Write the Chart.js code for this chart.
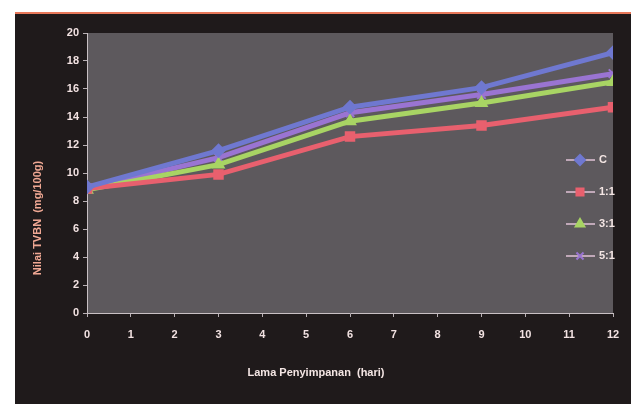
<!DOCTYPE html>
<html>
<head>
<meta charset="utf-8">
<script src="https://cdn.jsdelivr.net/npm/chart.js@4/dist/chart.umd.min.js"></script>
<style>
  html, body { margin: 0; padding: 0; background: #fff; }
  #wrap { width: 631px; height: 404px; }
</style>
</head>
<body>
<div id="wrap"><canvas id="myChart" width="631" height="404"></canvas></div>
<script>
// values
var days = [0, 3, 6, 9, 12];
var seriesNames = ['C', '1:1', '3:1', '5:1'];
var valC = [9.0, 11.6, 14.7, 16.1, 18.6];
var val11 = [8.9, 9.9, 12.6, 13.4, 14.7];
var val31 = [8.8, 10.6, 13.7, 15.0, 16.5];
var val51 = [8.9, 11.1, 14.3, 15.6, 17.1];
var xTicks = [0, 1, 2, 3, 4, 5, 6, 7, 8, 9, 10, 11, 12];
var yTicks = [0, 2, 4, 6, 8, 10, 12, 14, 16, 18, 20];

var colors = ['#6f78d0', '#e8606e', '#a8d464', '#9a74d2'];
var shapes = ['rectRot', 'rect', 'triangle', 'crossRot'];
var tickFont = { family: "'Liberation Sans Narrow', 'Liberation Sans', Arial", size: 11, weight: 'bold' };

var toPoints = function(vals) {
    return vals.map(function(v, i) { return { x: days[i], y: v }; });
};

var backdrop = {
    id: 'backdrop',
    beforeDraw: function(chart) {
        var ctx = chart.ctx, a = chart.chartArea;
        ctx.save();
        ctx.fillStyle = '#ffffff';
        ctx.fillRect(0, 0, chart.width, chart.height);
        ctx.fillStyle = '#1f1a1b';
        ctx.fillRect(15, 12, chart.width - 15, chart.height - 12);
        ctx.fillStyle = '#e8785a';
        ctx.fillRect(15, 12, chart.width - 15, 2);
        ctx.fillStyle = '#5d595d';
        ctx.fillRect(a.left, a.top, a.right - a.left, a.bottom - a.top);
        ctx.restore();
    },
    afterDraw: function(chart) {
        var ctx = chart.ctx;
        ctx.save();
        // axis titles
        ctx.font = "bold 11px 'Liberation Sans Narrow', 'Liberation Sans', Arial";
        ctx.textAlign = 'center';
        ctx.textBaseline = 'middle';
        ctx.fillStyle = '#f4e6e4';
        ctx.fillText('Lama Penyimpanan  (hari)', 316, 373);
        ctx.translate(38, 218);
        ctx.rotate(-Math.PI / 2);
        ctx.fillStyle = '#f0a894';
        ctx.fillText('Nilai TVBN  (mg/100g)', 0, 0);
        ctx.restore();

        // legend
        ctx.save();
        chart.data.datasets.forEach(function(ds, i) {
            var y = 160 + i * 32;
            ctx.strokeStyle = '#c0a8b8';
            ctx.lineWidth = 2;
            ctx.beginPath();
            ctx.moveTo(566, y);
            ctx.lineTo(595, y);
            ctx.stroke();
            ctx.fillStyle = ds.backgroundColor;
            ctx.strokeStyle = ds.borderColor;
            ctx.lineWidth = 2;
            Chart.helpers.drawPoint(ctx, { pointStyle: ds.pointStyle, radius: 5, borderWidth: 2 }, 580, y);
            ctx.fillStyle = '#f4e6e4';
            ctx.font = "bold 11px 'Liberation Sans Narrow', 'Liberation Sans', Arial";
            ctx.textAlign = 'left';
            ctx.textBaseline = 'middle';
            ctx.fillText(ds.label, 599, y);
        });
        ctx.restore();
    }
};

var datasets = [valC, val11, val31, val51].map(function(vals, i) {
    return {
        label: seriesNames[i],
        data: toPoints(vals),
        borderColor: colors[i],
        backgroundColor: colors[i],
        borderWidth: 5,
        pointStyle: shapes[i],
        pointRadius: 6,
        pointBorderWidth: 2,
        tension: 0
    };
});

var ctx = document.getElementById('myChart').getContext('2d');
var myChart = new Chart(ctx, {
    type: 'line',
    data: { datasets: datasets },
    options: {
        responsive: false,
        animation: false,
        layout: { padding: { left: 0, right: 18, top: 33, bottom: 0 } },
        plugins: { legend: { display: false }, tooltip: { enabled: false } },
        scales: {
            x: {
                type: 'linear',
                min: 0,
                max: 12,
                afterBuildTicks: function(axis) {
                    axis.ticks = xTicks.map(function(v) { return { value: v }; });
                },
                afterFit: function(axis) { axis.height = 91; },
                grid: { display: true, drawOnChartArea: false, drawTicks: true, tickLength: 4, color: '#b8b0b4' },
                border: { display: true, color: '#c8c0c4', width: 1 },
                ticks: { color: '#f2e2e2', font: tickFont, padding: 11, maxRotation: 0 }
            },
            y: {
                min: 0,
                max: 20,
                afterBuildTicks: function(axis) {
                    axis.ticks = yTicks.map(function(v) { return { value: v }; });
                },
                afterFit: function(axis) { axis.width = 87; },
                grid: { display: true, drawOnChartArea: false, drawTicks: true, tickLength: 4, color: '#b8b0b4' },
                border: { display: true, color: '#c8c0c4', width: 1 },
                ticks: { color: '#f2e2e2', font: tickFont, padding: 4 }
            }
        }
    },
    plugins: [backdrop]
});
</script>
</body>
</html>
